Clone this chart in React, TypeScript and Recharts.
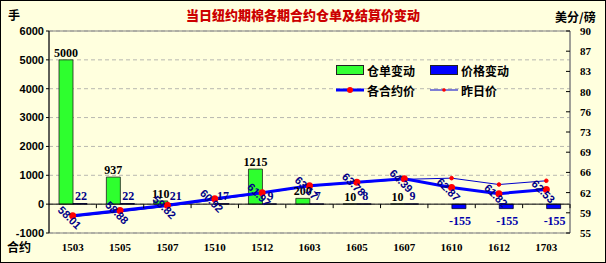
import React from "react";
import {
  ComposedChart,
  Bar,
  Line,
  XAxis,
  YAxis,
  CartesianGrid,
  ReferenceLine,
  ReferenceArea,
  Legend,
  LabelList,
} from "recharts";

// contracts and values
const contracts = ["1503", "1505", "1507", "1510", "1512", "1603", "1605", "1607", "1610", "1612", "1703"];
const warrantChange = [5000, 937, 110, 0, 1215, 200, 10, 10, 0, 0, 0];
const priceChange = [22, 22, 21, 17, 9, 7, 8, 9, -155, -155, -155];
const settlePrice = [58.01, 58.88, 59.82, 60.92, 61.97, 63.17, 63.78, 64.39, 62.87, 61.82, 62.53];
const prevPrice = [57.79, 58.66, 59.61, 60.75, 61.88, 63.1, 63.7, 64.3, 64.5, 63.4, 64.05];

const leftTicks = [-1000, 0, 1000, 2000, 3000, 4000, 5000, 6000];
const rightTicks = [55, 58.5, 62, 65.5, 69, 72.5, 76, 79.5, 83, 86.5, 90];
const rightTickLabels = ["55", "59", "62", "66", "69", "73", "76", "80", "83", "87", "90"];

const data = contracts.map((c, i) => ({
  contract: c,
  warrant: warrantChange[i],
  change: priceChange[i],
  price: settlePrice[i],
  prev: prevPrice[i],
}));

const W = 606;
const H = 263;
const TOP = 31;
const BOTTOM = 233;
const LEFT = 49;
const RIGHT = 570;
const LEFT_MIN = -1000;
const LEFT_MAX = 6000;
const zeroY = TOP + ((BOTTOM - TOP) * LEFT_MAX) / (LEFT_MAX - LEFT_MIN);
const bandW = (RIGHT - LEFT) / contracts.length;

const BG = "#FFFFDE";
const NAVY = "#000088";
const SANS = "'Liberation Sans', Arial, sans-serif";
const SERIF = "'Liberation Serif', 'Times New Roman', serif";
const CJK = "'Noto Sans CJK SC', sans-serif";

const XTick = (props: any) => {
  const { x, payload } = props;
  return (
    <g>
      <line x1={x + bandW / 2} x2={x + bandW / 2} y1={zeroY} y2={zeroY + 4} stroke="#000" />
      <text x={x} y={251} textAnchor="middle" fontFamily={SERIF} fontWeight="bold" fontSize={11} fill="#000">
        {payload.value}
      </text>
    </g>
  );
};

const RightTick = (props: any) => {
  const { x, y, payload } = props;
  const idx = rightTicks.indexOf(payload.value);
  return (
    <g>
      <line x1={RIGHT - 4} x2={RIGHT} y1={y} y2={y} stroke="#000" />
      <text x={x} y={y + 4} textAnchor="start" fontFamily={SERIF} fontWeight="bold" fontSize={11} fill="#000">
        {idx >= 0 ? rightTickLabels[idx] : payload.value}
      </text>
    </g>
  );
};

const PriceLabel = (props: any) => {
  const { x, y, value } = props;
  return (
    <text
      x={x - 3}
      y={y + 2}
      transform={`rotate(45 ${x - 3} ${y + 2})`}
      textAnchor="middle"
      dominantBaseline="central"
      fontFamily={SANS}
      fontWeight="bold"
      fontSize={11}
      fill={NAVY}
    >
      {Number(value).toFixed(2)}
    </text>
  );
};

const ChangeLabel = (props: any) => {
  const { x, y, width, height, value } = props;
  const top = Math.min(y, y + height);
  const bottom = Math.max(y, y + height);
  const neg = value < 0;
  return (
    <text
      x={x + width / 2 + 1}
      y={neg ? bottom + 16 : top - 4}
      textAnchor="middle"
      fontFamily={SERIF}
      fontWeight="bold"
      fontSize={12}
      fill={neg ? "#0000AA" : NAVY}
    >
      {value}
    </text>
  );
};

const LegendBox = () => {
  const item = { display: "flex", alignItems: "center", width: 94, height: 20 } as React.CSSProperties;
  const txt = { fontFamily: CJK, fontWeight: 700, fontSize: 12, color: "#000", marginLeft: 3 };
  return (
    <div style={{ display: "flex", flexWrap: "wrap", width: 190 }}>
      <div style={item}>
        <div style={{ width: 26, height: 8, background: "#33FF33", border: "1px solid #222" }} />
        <span style={txt}>仓单变动</span>
      </div>
      <div style={item}>
        <div style={{ width: 26, height: 8, background: "#0000FF", border: "1px solid #222" }} />
        <span style={txt}>价格变动</span>
      </div>
      <div style={item}>
        <svg width={28} height={10}>
          <line x1={0} x2={28} y1={5} y2={5} stroke="#0000FF" strokeWidth={3} />
          <circle cx={14} cy={5} r={3} fill="#FF0000" />
        </svg>
        <span style={txt}>各合约价</span>
      </div>
      <div style={item}>
        <svg width={28} height={10}>
          <line x1={0} x2={28} y1={5} y2={5} stroke="#0000CC" strokeWidth={1} />
          <circle cx={14} cy={5} r={1.8} fill="#FF0000" />
        </svg>
        <span style={txt}>昨日价</span>
      </div>
    </div>
  );
};

export default function App() {
  const corner = { position: "absolute", fontFamily: CJK, fontWeight: 700, fontSize: 12, color: "#000" } as React.CSSProperties;
  return (
    <div style={{ position: "absolute", left: 0, top: 0, width: W, height: H, background: BG }}>
      <ComposedChart
        width={W}
        height={H}
        data={data}
        margin={{ top: TOP, right: 0, bottom: 0, left: 0 }}
        barSize={14}
        barGap={0}
      >
        <CartesianGrid
          yAxisId="left"
          vertical={false}
          strokeDasharray="4 3"
          stroke="#B8B8B0"
          fill={BG}
        />
        <ReferenceArea yAxisId="left" y1={LEFT_MIN} y2={LEFT_MAX} fill="none" stroke="#808080" ifOverflow="visible" />
        <XAxis dataKey="contract" height={30} axisLine={false} tickLine={false} tick={<XTick />} interval={0} />
        <YAxis
          yAxisId="left"
          width={LEFT}
          domain={[LEFT_MIN, LEFT_MAX]}
          ticks={leftTicks}
          interval={0}
          axisLine={{ stroke: "#000" }}
          tickLine={{ stroke: "#000" }}
          tickSize={3}
          tick={{ fill: "#000", fontSize: 11, fontWeight: "bold", fontFamily: SANS }}
        />
        <YAxis
          yAxisId="right"
          orientation="right"
          width={W - RIGHT}
          domain={[55, 90]}
          ticks={rightTicks}
          interval={0}
          axisLine={{ stroke: "#808080" }}
          tickLine={false}
          tickSize={0}
          tickMargin={10}
          tick={<RightTick />}
        />
        <ReferenceLine yAxisId="left" y={0} stroke="#000" />
        <Legend
          verticalAlign="middle"
          align="center"
          content={<LegendBox />}
          wrapperStyle={{ position: "absolute", left: 336, top: 60, width: 200 }}
        />
        <Bar yAxisId="left" dataKey="warrant" fill="#2EFF2E" stroke="#222" strokeWidth={0.8} isAnimationActive={false}>
          <LabelList
            dataKey="warrant"
            position="top"
            offset={3}
            style={{ fill: "#000", fontSize: 12, fontWeight: "bold", fontFamily: SERIF }}
          />
        </Bar>
        <Bar yAxisId="left" dataKey="change" fill="#0000FF" stroke="#000033" strokeWidth={0.8} isAnimationActive={false}>
          <LabelList dataKey="change" content={<ChangeLabel />} />
        </Bar>
        <Line
          yAxisId="right"
          dataKey="prev"
          stroke="#0000CC"
          strokeWidth={1}
          dot={{ r: 1.8, fill: "#FF0000", stroke: "#FF0000" }}
          isAnimationActive={false}
        />
        <Line
          yAxisId="right"
          dataKey="price"
          stroke="#0000FF"
          strokeWidth={3}
          dot={{ r: 3.5, fill: "#FF0000", stroke: "none" }}
          isAnimationActive={false}
        >
          <LabelList dataKey="price" content={<PriceLabel />} />
        </Line>
      </ComposedChart>
      <div style={{ ...corner, left: 8, top: 6 }}>手</div>
      <div style={{ ...corner, left: 555, top: 8 }}>美分/磅</div>
      <div style={{ ...corner, left: 7, top: 238 }}>合约</div>
      <div
        style={{
          position: "absolute",
          left: 0,
          width: W,
          top: 5,
          textAlign: "center",
          fontFamily: CJK,
          fontWeight: 900,
          fontSize: 13,
          color: "#CC0000",
        }}
      >
        当日纽约期棉各期合约仓单及结算价变动
      </div>
      <div
        style={{
          position: "absolute",
          left: 0,
          top: 0,
          width: W,
          height: H,
          boxSizing: "border-box",
          border: "1px solid #000",
          pointerEvents: "none",
        }}
      />
    </div>
  );
}
